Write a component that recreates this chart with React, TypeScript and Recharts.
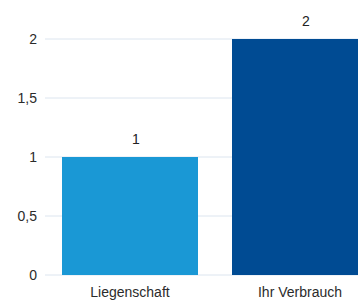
import { BarChart, Bar, XAxis, YAxis, CartesianGrid, Cell, LabelList } from 'recharts';

const categories = ['Liegenschaft', 'Ihr Verbrauch'];
const values = [1, 2];
const barColors = ['#1a98d5', '#004b93'];
const yTicks = [0, 0.5, 1, 1.5, 2];

const data = categories.map((name, i) => ({ name, value: values[i] }));

const fmt = (v: number) => String(v).replace('.', ',');

export default function App() {
    return (
        <div style={{ position: 'absolute', left: 0, top: 0, width: 358, height: 300, overflow: 'hidden', fontFamily: '"Liberation Sans", Arial, sans-serif' }}>
            <BarChart width={385} height={300} data={data} margin={{ top: 39, right: 0, left: 0, bottom: 0 }} barCategoryGap="10%">
                <CartesianGrid vertical={false} stroke="#dce5ef" />
                <XAxis
                    dataKey="name"
                    axisLine={false}
                    tickLine={false}
                    tickSize={6}
                    tickMargin={6}
                    height={25}
                    tick={{ fontSize: 14, fill: '#2b2b2b' }}
                />
                <YAxis
                    width={45}
                    domain={[0, 2]}
                    ticks={yTicks}
                    axisLine={false}
                    tickLine={false}
                    tickFormatter={fmt}
                    tick={{ fontSize: 14, fill: '#2b2b2b' }}
                />
                <Bar dataKey="value" isAnimationActive={false}>
                    {data.map((d, i) => (
                        <Cell key={d.name} fill={barColors[i]} />
                    ))}
                    <LabelList dataKey="value" position="top" offset={13} dx={6} fill="#222" fontSize={14} formatter={(v: any) => fmt(Number(v))} />
                </Bar>
            </BarChart>
        </div>
    );
}
